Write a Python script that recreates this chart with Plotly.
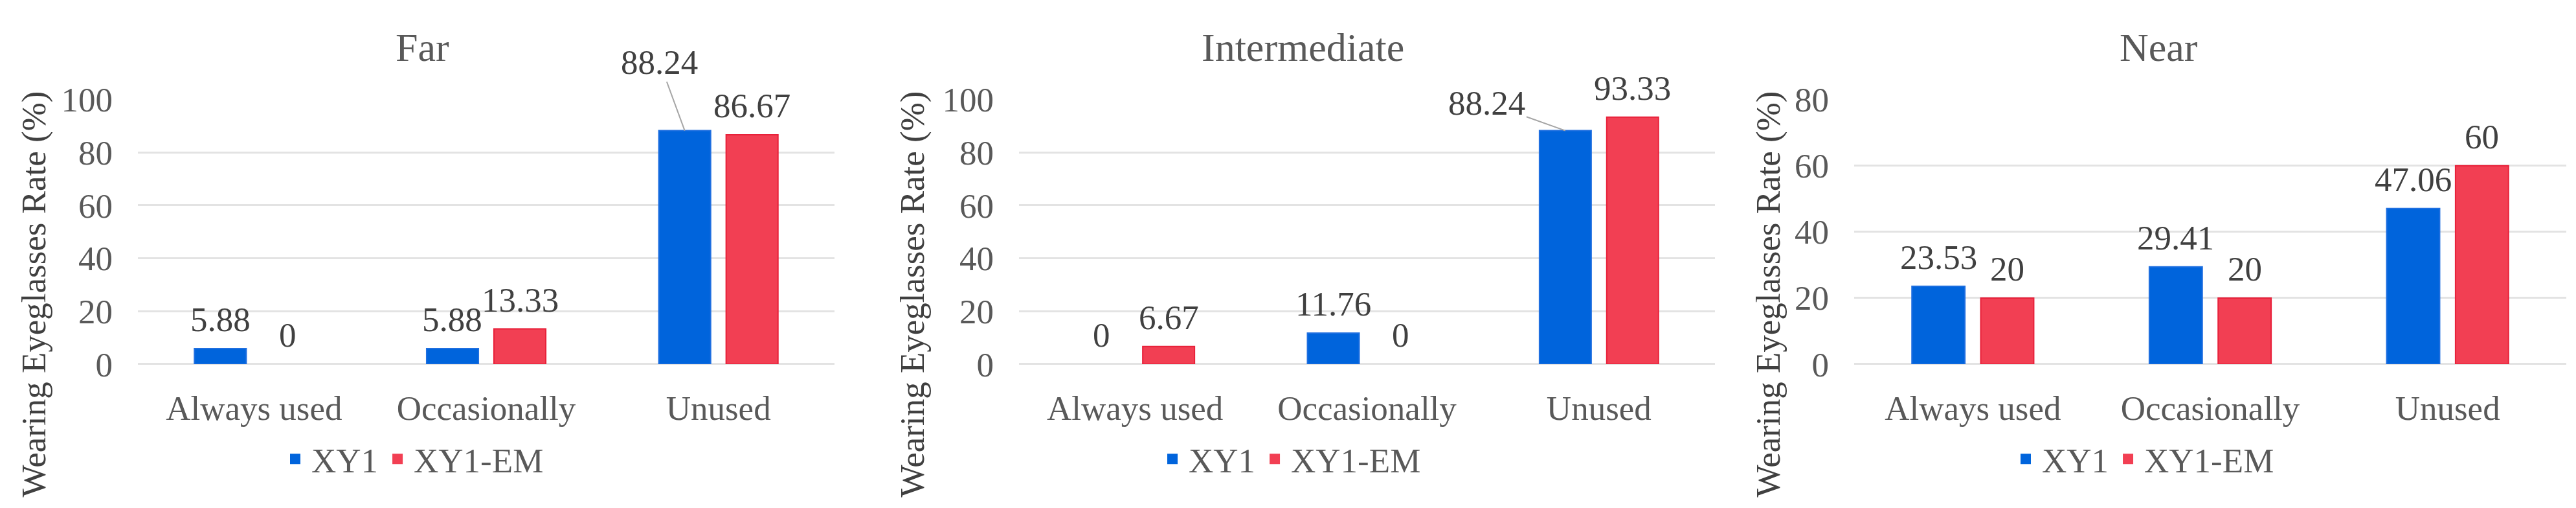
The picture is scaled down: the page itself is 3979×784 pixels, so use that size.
import plotly.graph_objects as go

# ---------------- data ----------------
categories = ["Always used", "Occasionally", "Unused"]
panel_titles = ["Far", "Intermediate", "Near"]
series_names = ["XY1", "XY1-EM"]

far_xy1 = [5.88, 5.88, 88.24]
far_xy1em = [0, 13.33, 86.67]
inter_xy1 = [0, 11.76, 88.24]
inter_xy1em = [6.67, 0, 93.33]
near_xy1 = [23.53, 29.41, 47.06]
near_xy1em = [20, 20, 60]

y_max = [100, 100, 80]
y_step = 20
y_title = "Wearing Eyeglasses Rate (%)"

# ---------------- style ----------------
W, H = 3979, 784
FONT = "Liberation Serif"
TICK_COLOR = "#595959"
LABEL_COLOR = "#404040"
GRID = "#E3E3E3"
COLORS = ["#0064DC", "#F23F53"]
LINE_COLORS = ["#1F6FE0", "#E8213A"]
BARGAP = 0.42
BARGROUPGAP = 0.23

# plot areas in pixels (left, right), shared top/bottom
x_px = [(205, 1281), (1566, 2641), (2856, 3956)]
y_top, y_bot = 127, 568
title_cx = [644, 2005, 3326]
ytitle_cx = [45, 1402, 2724]
legend_cx = [630, 1985, 3303]

# labels drawn with a leader line: (panel, series, category, dx, dy)
leader_labels = [(0, 0, 2, -39, -106), (1, 0, 2, -121, -43)]

data = [[far_xy1, far_xy1em], [inter_xy1, inter_xy1em], [near_xy1, near_xy1em]]

fig = go.Figure()
annotations = []
layout = {}

for p in range(3):
    sfx = "" if p == 0 else str(p + 1)
    xa, ya = "x" + sfx, "y" + sfx
    leg = "legend" + sfx
    for s in range(2):
        vals = data[p][s]
        fig.add_trace(go.Bar(
            x=categories, y=vals, name=series_names[s],
            marker=dict(color=COLORS[s],
                        line=dict(color=LINE_COLORS[s],
                                  width=[0 if v == 0 else 2 for v in vals])),
            xaxis=xa, yaxis=ya, showlegend=False, offsetgroup=str(s),
        ))
        # legend-only marker
        fig.add_trace(go.Scatter(
            x=[None], y=[None], mode="markers", name=series_names[s],
            marker=dict(symbol="square", size=26, color=COLORS[s]),
            xaxis=xa, yaxis=ya, legend=leg, showlegend=True,
        ))
    x0, x1 = x_px[p]
    band = (x1 - x0) / len(categories)
    slot = (1 - BARGAP) * band / 2
    layout["xaxis" + sfx] = dict(
        domain=[x0 / W, x1 / W], anchor=ya, type="category",
        showgrid=False, showline=False, zeroline=False, ticks="",
        ticklabelstandoff=32,
        tickfont=dict(family=FONT, size=53, color=TICK_COLOR),
    )
    layout["yaxis" + sfx] = dict(
        domain=[(H - y_bot) / H, (H - y_top) / H], anchor=xa,
        range=[0, y_max[p]], dtick=y_step, tick0=0,
        showgrid=True, gridcolor=GRID, gridwidth=3,
        zeroline=True, zerolinecolor=GRID, zerolinewidth=3,
        showline=False, ticks="", ticklabelstandoff=38,
        tickfont=dict(family=FONT, size=53, color=TICK_COLOR),
    )
    layout[leg] = dict(
        x=legend_cx[p] / W, xanchor="center", y=(H - 726) / H, yanchor="middle",
        orientation="h", font=dict(family=FONT, size=53, color=TICK_COLOR),
        itemwidth=40, bgcolor="rgba(0,0,0,0)", tracegroupgap=0,
    )
    # panel title
    annotations.append(dict(
        text=panel_titles[p], xref="paper", yref="paper",
        x=title_cx[p] / W, y=(H - 40) / H, xanchor="center", yanchor="middle",
        showarrow=False, font=dict(family=FONT, size=62, color=TICK_COLOR),
    ))
    # y axis title
    annotations.append(dict(
        text=y_title, xref="paper", yref="paper", textangle=-90,
        x=ytitle_cx[p] / W, y=(H - 452) / H, xanchor="center", yanchor="middle",
        showarrow=False, font=dict(family=FONT, size=53, color=LABEL_COLOR),
    ))
    # data labels
    for s in range(2):
        shift = (-0.5 if s == 0 else 0.5) * slot
        for c, cat in enumerate(categories):
            val = data[p][s][c]
            txt = f"{val:g}"
            lead = [l for l in leader_labels if l[:3] == (p, s, c)]
            if lead:
                _, _, _, dx, dy = lead[0]
                annotations.append(dict(
                    text=txt, xref=xa, yref=ya, x=cat, y=val, xshift=shift,
                    showarrow=True, arrowhead=0, arrowwidth=2, arrowcolor="#A6A6A6",
                    ax=dx, ay=dy, standoff=0,
                    font=dict(family=FONT, size=53, color=LABEL_COLOR),
                ))
            else:
                annotations.append(dict(
                    text=txt, xref=xa, yref=ya, x=cat, y=val, xshift=shift,
                    yshift=14, xanchor="center", yanchor="bottom", showarrow=False,
                    font=dict(family=FONT, size=53, color=LABEL_COLOR),
                ))

fig.update_layout(
    width=W, height=H, margin=dict(l=0, r=0, t=0, b=0),
    paper_bgcolor="white", plot_bgcolor="white",
    barmode="group", bargap=BARGAP, bargroupgap=BARGROUPGAP,
    font=dict(family=FONT),
    annotations=annotations, **layout,
)

fig.write_html("out.html")
